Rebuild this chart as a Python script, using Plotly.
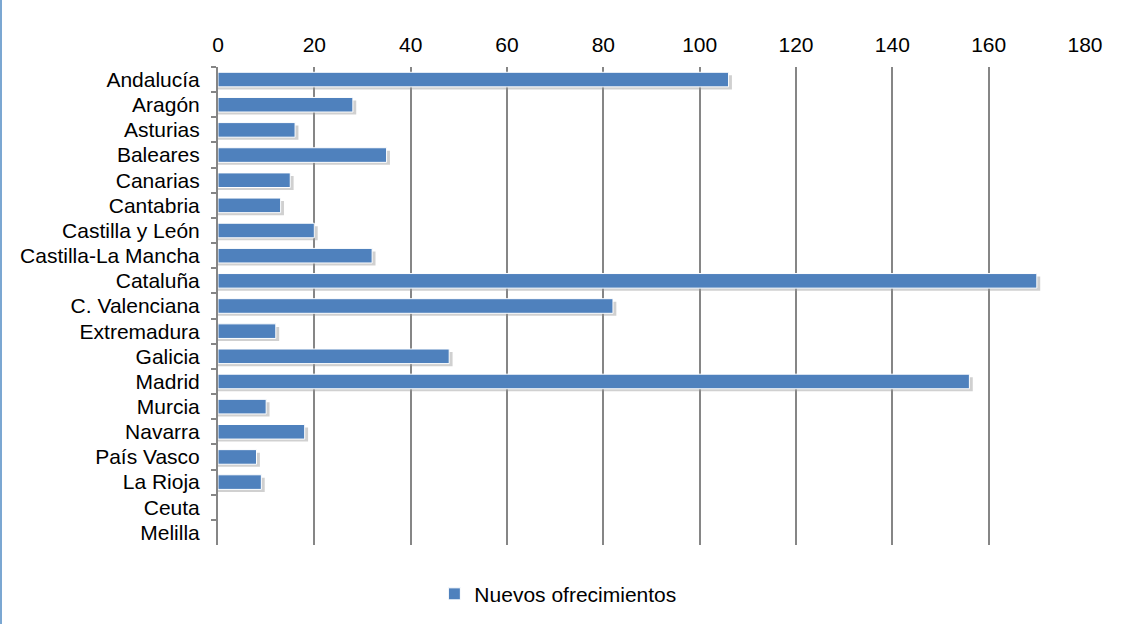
import plotly.graph_objects as go

categories = ["Andalucía", "Aragón", "Asturias", "Baleares", "Canarias", "Cantabria",
              "Castilla y León", "Castilla-La Mancha", "Cataluña", "C. Valenciana",
              "Extremadura", "Galicia", "Madrid", "Murcia", "Navarra", "País Vasco",
              "La Rioja", "Ceuta", "Melilla"]
values = [106, 28, 16, 35, 15, 13, 20, 32, 170, 82, 12, 48, 156, 10, 18, 8, 9, 0, 0]
x_ticks = [0, 20, 40, 60, 80, 100, 120, 140, 160, 180]
series_name = "Nuevos ofrecimientos"

W, H = 1121, 624
ml, mr, mt, mb = 218, 36, 67, 79
pw = W - ml - mr

fig = go.Figure()

# soft shadow behind bars
fig.add_trace(go.Bar(
    y=categories, x=[v + 0.7 if v > 0 else 0 for v in values], orientation="h",
    marker=dict(color="rgba(150,150,150,0.45)", line=dict(width=0)),
    width=0.56, offset=-0.17, showlegend=False, hoverinfo="skip"))

fig.add_trace(go.Bar(
    y=categories, x=values, orientation="h", name=series_name,
    marker=dict(color="#4F81BD", line=dict(color="white", width=1)),
    width=0.58, offset=-0.29))

fig.update_layout(
    width=W, height=H,
    margin=dict(l=ml, r=mr, t=mt, b=mb, autoexpand=False),
    paper_bgcolor="white", plot_bgcolor="white",
    barmode="overlay",
    font=dict(family="Liberation Sans, Arial, sans-serif", size=21, color="black"),
    showlegend=True,
    legend=dict(orientation="h", x=0.392, xanchor="center", y=-0.06, yanchor="top",
                font=dict(size=21), itemwidth=30),
    xaxis=dict(side="top", range=[0, 180], tickvals=x_ticks, ticktext=[str(t) for t in x_ticks],
               showgrid=True, gridcolor="#868686", gridwidth=1.5, zeroline=False,
               showline=False, ticks="", tickfont=dict(size=21), automargin=False,
               ticklabelstandoff=10),
    yaxis=dict(type="category", autorange="reversed", showgrid=False, showline=True,
               linecolor="#868686", linewidth=2, ticks="outside", tickson="boundaries",
               ticklen=5, tickcolor="#868686", tickwidth=2, ticklabelstandoff=12,
               tickfont=dict(size=21), automargin=False),
    shapes=[dict(type="line", xref="paper", yref="paper",
                 x0=(1 - ml) / pw, x1=(1 - ml) / pw, y0=-mb / (H - mt - mb), y1=1 + mt / (H - mt - mb),
                 line=dict(color="#7BA7D2", width=2))],
)

fig.write_html("out.html", config={"displayModeBar": False},
               post_script="document.body.style.margin='0';")
